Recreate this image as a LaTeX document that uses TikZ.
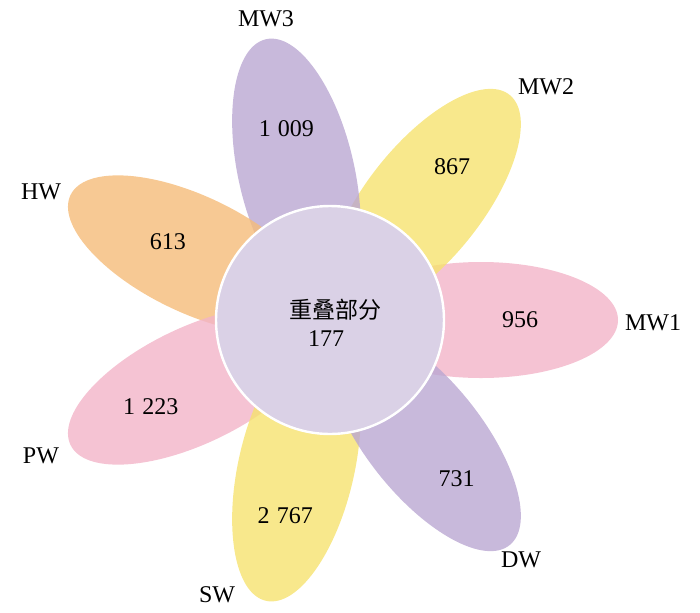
\documentclass[tikz,border=0pt]{standalone}
\usepackage{xcolor}
\usepackage{fontspec}
\setmainfont{Liberation Serif}
\newfontfamily\cjkfont{Noto Sans CJK SC}
\usepackage{tikz}
\usetikzlibrary{shapes.geometric, positioning, calc}
\definecolor{petalpurple}{RGB}{186,167,210}
\definecolor{petalyellow}{RGB}{246,226,111}
\definecolor{petalpink}{RGB}{242,180,200}
\definecolor{petalorange}{RGB}{245,188,121}
\definecolor{corefill}{RGB}{218,209,230}
\tikzset{
    petal/.style={ellipse, draw=none, fill opacity=0.8, minimum width=137pt, minimum height=58pt, inner sep=0pt},
    core/.style={circle, draw=white, line width=1.2pt, fill=corefill, minimum size=114pt, inner sep=0pt},
    count/.style={font=\fontsize{12}{14}\selectfont, inner sep=1pt},
    setname/.style={font=\fontsize{12}{14}\selectfont, inner sep=1pt},
}
\newcommand{\gap}{\hspace{0.3em}}

\begin{document}
\begin{tikzpicture}[x=0.5pt, y=0.5pt]
\useasboundingbox (-330,-292) rectangle (370,320);

% === PETALS ===
\node[petal, fill=petalpink, rotate=0] (pmwone) at (0:151) {};
\node[petal, fill=petalyellow, rotate=51.43] (pmwtwo) at (51.43:151) {};
\node[petal, fill=petalpurple, rotate=102.86] (pmwthree) at (102.86:151) {};
\node[petal, fill=petalorange, rotate=154.29] (phw) at (154.29:151) {};
\node[petal, fill=petalpink, rotate=205.71] (ppw) at (205.71:151) {};
\node[petal, fill=petalyellow, rotate=257.14] (psw) at (257.14:151) {};
\node[petal, fill=petalpurple, rotate=308.57] (pdw) at (308.57:151) {};

% === CORE ===
\node[core] (core) at (0,0) {};
\node[font=\cjkfont\fontsize{11.5}{14}\selectfont, inner sep=1pt] (coretitle) at (5,10) {重叠部分};
\node[count] (corenum) at (-4,-19) {177};

% === UNIQUE COUNTS ===
\node[count] (nmwone) at (0:190) {956};
\node[count] (nmwtwo) at (51.43:196) {867};
\node[count] (nmwthree) at (102.86:196) {1\gap 009};
\node[count] (nhw) at (154.29:180) {613};
\node[count] (npw) at (205.71:199) {1\gap 223};
\node[count] (nsw) at (257.14:201) {2\gap 767};
\node[count] (ndw) at (308.57:203) {731};

% === SET NAMES ===
\node[setname] (lmwone) at (323,-3) {MW1};
\node[setname] (lmwtwo) at (216,233) {MW2};
\node[setname] (lmwthree) at (-64,301) {MW3};
\node[setname] (lhw) at (-289,128) {HW};
\node[setname] (lpw) at (-289,-136) {PW};
\node[setname] (lsw) at (-113,-275) {SW};
\node[setname] (ldw) at (191,-240) {DW};

\end{tikzpicture}
\end{document}
